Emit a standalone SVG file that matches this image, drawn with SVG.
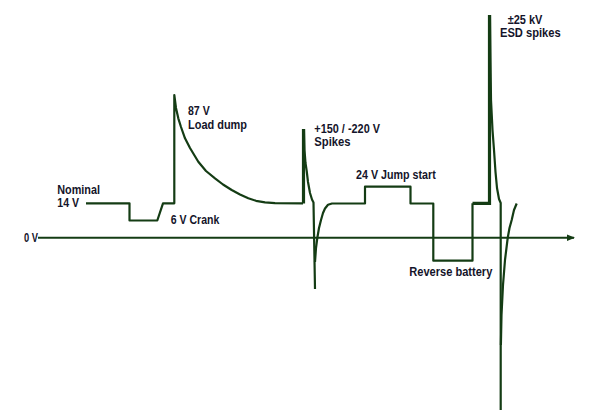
<svg xmlns="http://www.w3.org/2000/svg" width="605" height="420" viewBox="0 0 605 420">
<style>
.w{fill:none;stroke:#143c14;stroke-width:2.2;stroke-linejoin:round;stroke-linecap:butt}
.t{fill:none;stroke:#143c14;stroke-width:3.2;stroke-linejoin:miter}
.lbl{font-family:"Liberation Sans",Arial,sans-serif;font-weight:bold;font-size:12.5px;fill:#14142a}
</style>
<defs>
<marker id="arr" markerWidth="8" markerHeight="8" refX="7" refY="4" orient="auto" markerUnits="userSpaceOnUse">
<path d="M0,0.8 L8,4 L0,7.2 Z" fill="#143c14"/>
</marker>
</defs>
<rect width="605" height="420" fill="#ffffff"/>
<g id="connectors">
<line id="axis" x1="38" y1="237.8" x2="574" y2="237.8" stroke="#143c14" stroke-width="2" marker-end="url(#arr)"/>
<g id="waveform">
<path class="w" d="M86,203.3 H129.5 V220.5 H157.3 L163,203.3 H174.3 V95 L176,108 L178.3,118.3 L181,127 L185,138.3 L190,148 L198.3,161.7 L206,171 L215,178.3 L223,184.5 L231.7,190 L240,194.5 L248.3,198.3 L256,200.8 L265,202.3 L275,203.2 L303,203.3"/>
<path class="t" d="M303.5,203.5 V129"/>
<path class="w" d="M304,129 L304.5,150 L305.5,163 L306.7,171 L308,182 L310,193 L312,199.5 L313.5,202.5 L315,289"/>
<path class="w" d="M315,262 L316,248 L317.3,238 L319,228 L321,220 L323,213 L325,208.5 L328,204.8 L332,203.5 H365 V186.7 H410.5 V203.5 H433.3 V260.7 H472.5 V203.3"/>
<path class="t" d="M472.5,203.3 H489.5 V15"/>
<path class="w" d="M490,15 L490.5,60 L491,100 L492.5,130 L494,150 L495.5,172 L497,188 L499,199 L500.7,203 V410"/>
<path class="w" d="M500.9,345 L501.5,315 L503,285 L505,260 L507.7,238 L509.5,228 L511.7,220 L514,210 L516.7,203.5"/>
</g>
</g>
<g id="label-0v"><text class="lbl" x="24" y="242" textLength="14" lengthAdjust="spacingAndGlyphs">0 V</text></g>
<g id="label-nominal">
<text class="lbl" x="57.3" y="194" textLength="42.7" lengthAdjust="spacingAndGlyphs">Nominal</text>
<text class="lbl" x="57.3" y="207.3" textLength="21.7" lengthAdjust="spacingAndGlyphs">14 V</text>
</g>
<g id="label-crank"><text class="lbl" x="170.7" y="224" textLength="48.6" lengthAdjust="spacingAndGlyphs">6 V Crank</text></g>
<g id="label-loaddump">
<text class="lbl" x="188" y="114.8" textLength="21.7" lengthAdjust="spacingAndGlyphs">87 V</text>
<text class="lbl" x="188" y="129.3" textLength="59" lengthAdjust="spacingAndGlyphs">Load dump</text>
</g>
<g id="label-spikes">
<text class="lbl" x="314.3" y="132.7" textLength="65.7" lengthAdjust="spacingAndGlyphs">+150 / -220 V</text>
<text class="lbl" x="314.3" y="146" textLength="36.3" lengthAdjust="spacingAndGlyphs">Spikes</text>
</g>
<g id="label-jump"><text class="lbl" x="356" y="179" textLength="79.7" lengthAdjust="spacingAndGlyphs">24 V Jump start</text></g>
<g id="label-reverse"><text class="lbl" x="409.3" y="275.7" textLength="83" lengthAdjust="spacingAndGlyphs">Reverse battery</text></g>
<g id="label-esd">
<text class="lbl" x="507.7" y="24" textLength="34.7" lengthAdjust="spacingAndGlyphs">±25 kV</text>
<text class="lbl" x="500" y="37.3" textLength="60.7" lengthAdjust="spacingAndGlyphs">ESD spikes</text>
</g>
</svg>
